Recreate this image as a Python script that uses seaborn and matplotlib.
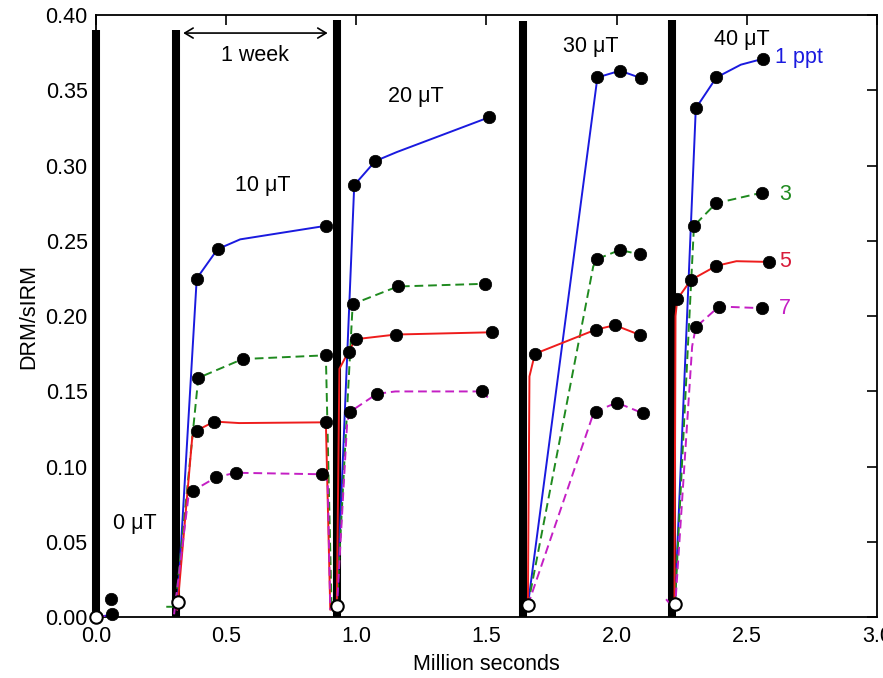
import numpy as np
import pandas as pd
import matplotlib
matplotlib.use("Agg")
import matplotlib.pyplot as plt
import seaborn as sns

# ---------------- data ----------------
# line vertices per series: (segment, x [Ms], y [DRM/sIRM])
blue_seg = [0, 0, 1, 1, 1, 1, 1, 2, 2, 2, 2, 2, 3, 3, 3, 3, 4, 4, 4, 4, 4]
blue_x = [0.0, 0.07, 0.312, 0.387, 0.467, 0.554, 0.883,
          0.925, 0.992, 1.073, 1.156, 1.509,
          1.659, 1.926, 2.013, 2.095,
          2.224, 2.304, 2.383, 2.477, 2.564]
blue_y = [0.0, 0.002, 0.005, 0.225, 0.2445, 0.251, 0.260,
          0.0075, 0.287, 0.303, 0.309, 0.332,
          0.008, 0.3585, 0.363, 0.358,
          0.009, 0.338, 0.3585, 0.367, 0.371]

green_seg = [1, 1, 1, 1, 1, 1, 2, 2, 2, 2, 3, 3, 3, 3, 3, 4, 4, 4, 4]
green_x = [0.27, 0.305, 0.393, 0.563, 0.883, 0.905,
           0.925, 0.986, 1.159, 1.496,
           1.659, 1.91, 1.926, 2.013, 2.088,
           2.224, 2.297, 2.382, 2.558]
green_y = [0.007, 0.007, 0.159, 0.1715, 0.174, 0.005,
           0.0075, 0.208, 0.2197, 0.2215,
           0.008, 0.233, 0.238, 0.244, 0.241,
           0.009, 0.260, 0.275, 0.282]

red_seg = [1, 1, 1, 1, 1, 1, 1, 2, 2, 2, 2, 2, 2, 3, 3, 3, 3, 3, 3, 4, 4, 4, 4, 4, 4, 4]
red_x = [0.312, 0.37, 0.387, 0.454, 0.55, 0.883, 0.90,
         0.925, 0.935, 0.970, 0.998, 1.152, 1.522,
         1.659, 1.665, 1.686, 1.919, 1.993, 2.088,
         2.222, 2.226, 2.233, 2.285, 2.383, 2.46, 2.586]
red_y = [0.005, 0.12, 0.124, 0.130, 0.129, 0.1295, 0.005,
         0.0075, 0.165, 0.1765, 0.1847, 0.1878, 0.1893,
         0.008, 0.16, 0.175, 0.191, 0.194, 0.1876,
         0.010, 0.20, 0.2113, 0.224, 0.2334, 0.2365, 0.236]

mag_seg = [0, 0, 1, 1, 1, 1, 1, 1, 1, 1, 2, 2, 2, 2, 2, 2, 2,
           3, 3, 3, 3, 3, 4, 4, 4, 4, 4, 4]
mag_x = [0.0, 0.075, 0.30, 0.355, 0.372, 0.4615, 0.536, 0.869, 0.89, 0.90,
         0.925, 0.965, 0.977, 1.079, 1.15, 1.483, 1.505,
         1.659, 1.91, 1.919, 2.0, 2.101,
         2.19, 2.224, 2.29, 2.304, 2.393, 2.558]
mag_y = [0.0, 0.002, 0.002, 0.080, 0.084, 0.093, 0.096, 0.095, 0.09, 0.005,
         0.005, 0.13, 0.1366, 0.1484, 0.150, 0.150, 0.146,
         0.008, 0.135, 0.1366, 0.1426, 0.1355,
         0.012, 0.005, 0.18, 0.1927, 0.2064, 0.2053]

# measured points (filled black dots)
dot_x = [0.057, 0.062,
         0.387, 0.467, 0.883, 0.393, 0.563, 0.883, 0.387, 0.454, 0.883,
         0.372, 0.4615, 0.536, 0.869,
         0.992, 1.073, 1.509, 0.986, 1.159, 1.496, 0.970, 0.998, 1.152, 1.522,
         0.977, 1.079, 1.483,
         1.926, 2.013, 2.095, 1.926, 2.013, 2.088, 1.686, 1.919, 1.993, 2.088,
         1.919, 2.0, 2.101,
         2.304, 2.383, 2.564, 2.297, 2.382, 2.558, 2.233, 2.285, 2.383, 2.586,
         2.304, 2.393, 2.558]
dot_y = [0.012, 0.002,
         0.225, 0.2445, 0.260, 0.159, 0.1715, 0.174, 0.124, 0.130, 0.1295,
         0.084, 0.093, 0.096, 0.095,
         0.287, 0.303, 0.332, 0.208, 0.2197, 0.2215, 0.1765, 0.1847, 0.1878, 0.1893,
         0.1366, 0.1484, 0.150,
         0.3585, 0.363, 0.358, 0.238, 0.244, 0.241, 0.175, 0.191, 0.194, 0.1876,
         0.1366, 0.1426, 0.1355,
         0.338, 0.3585, 0.371, 0.260, 0.275, 0.282, 0.2113, 0.224, 0.2334, 0.236,
         0.1927, 0.2064, 0.2053]

# starting points (open circles)
open_x = [0.0, 0.314, 0.925, 1.659, 2.224]
open_y = [0.0, 0.010, 0.0075, 0.008, 0.009]

# field-change markers (thick bars)
bar_x = [0.0, 0.307, 0.926, 1.640, 2.211]
bar_top = [0.390, 0.390, 0.397, 0.396, 0.397]

field_labels = ["0 \u03bcT", "10 \u03bcT", "20 \u03bcT", "30 \u03bcT", "40 \u03bcT"]
field_lx = [0.15, 0.64, 1.23, 1.90, 2.48]
field_ly = [0.062, 0.287, 0.346, 0.379, 0.384]

series_labels = ["1 ppt", "3", "5", "7"]
series_lx = [2.608, 2.625, 2.625, 2.625]
series_ly = [0.372, 0.281, 0.236, 0.205]

# ---------------- plot ----------------
sns.set_theme(style="white")
plt.rcParams["font.family"] = ["Liberation Sans", "DejaVu Sans"]
for k in ["text.color", "axes.labelcolor", "xtick.color", "ytick.color"]:
    plt.rcParams[k] = "black"
fs = 15.5

fig = plt.figure(figsize=(8.83, 6.78), dpi=100)
ax = fig.add_axes([0.1087, 0.0895, 0.8845, 0.8884])

# thick bars
bars = ax.vlines(bar_x, 0, bar_top, colors="black", linewidth=5.8, zorder=2)
bars.set_clip_on(False)

series = [
    (blue_seg, blue_x, blue_y, "#1a1adf", "-"),
    (green_seg, green_x, green_y, "#1f8a1f", "--"),
    (red_seg, red_x, red_y, "#ee1c1c", "-"),
    (mag_seg, mag_x, mag_y, "#c41fc4", "--"),
]
for seg, xs, ys, col, ls in series:
    df = pd.DataFrame({"seg": seg, "x": xs, "y": ys})
    sns.lineplot(data=df, x="x", y="y", units="seg", estimator=None, sort=False,
                 color=col, linestyle=ls, linewidth=1.4, ax=ax, zorder=3)

for ln in ax.lines:
    if ln.get_linestyle() == "--":
        ln.set_dashes([4.5, 2.5])

dots = pd.DataFrame({"x": dot_x, "y": dot_y})
sc1 = sns.scatterplot(data=dots, x="x", y="y", color="black", s=80,
                      edgecolor="black", linewidth=0.5, ax=ax, zorder=5)
opens = pd.DataFrame({"x": open_x, "y": open_y})
sns.scatterplot(data=opens, x="x", y="y", color="white", s=80, edgecolor="black",
                linewidth=1.5, ax=ax, zorder=6)
for coll in ax.collections:
    coll.set_clip_on(False)

# arrow "1 week"
ax.annotate("", xy=(0.335, 0.388), xytext=(0.89, 0.388),
            arrowprops=dict(arrowstyle="<->,head_length=0.5,head_width=0.3",
                            color="black", lw=1.2, shrinkA=0, shrinkB=0))
ax.text(0.61, 0.373, "1 week", fontsize=fs, ha="center", va="center")

for t, x, y in zip(field_labels, field_lx, field_ly):
    ax.text(x, y, t, fontsize=fs, ha="center", va="center")

for t, x, y, c in zip(series_labels, series_lx, series_ly,
                      ["#1a1adf", "#1f8a1f", "#d81b3a", "#c41fc4"]):
    ax.text(x, y, t, fontsize=fs, ha="left", va="center", color=c)

ax.set_xlim(0, 3.0)
ax.set_ylim(0, 0.40)
ax.set_xticks(np.arange(0, 3.01, 0.5))
ax.set_xticklabels(["0.0", "0.5", "1.0", "1.5", "2.0", "2.5", "3.0"])
ax.set_yticks(np.arange(0, 0.401, 0.05))
ax.set_yticklabels([f"{v:.2f}" for v in np.arange(0, 0.401, 0.05)])
ax.tick_params(direction="in", length=7, width=1.2, top=True, right=True,
               labelsize=fs, colors="black", pad=6)
for sp in ax.spines.values():
    sp.set_visible(True)
    sp.set_color("black")
    sp.set_linewidth(1.3)
ax.set_xlabel("Million seconds", fontsize=fs, labelpad=5)
ax.set_ylabel("DRM/sIRM", fontsize=fs, labelpad=4)
ax.grid(False)

fig.savefig("out.png", dpi=100)
